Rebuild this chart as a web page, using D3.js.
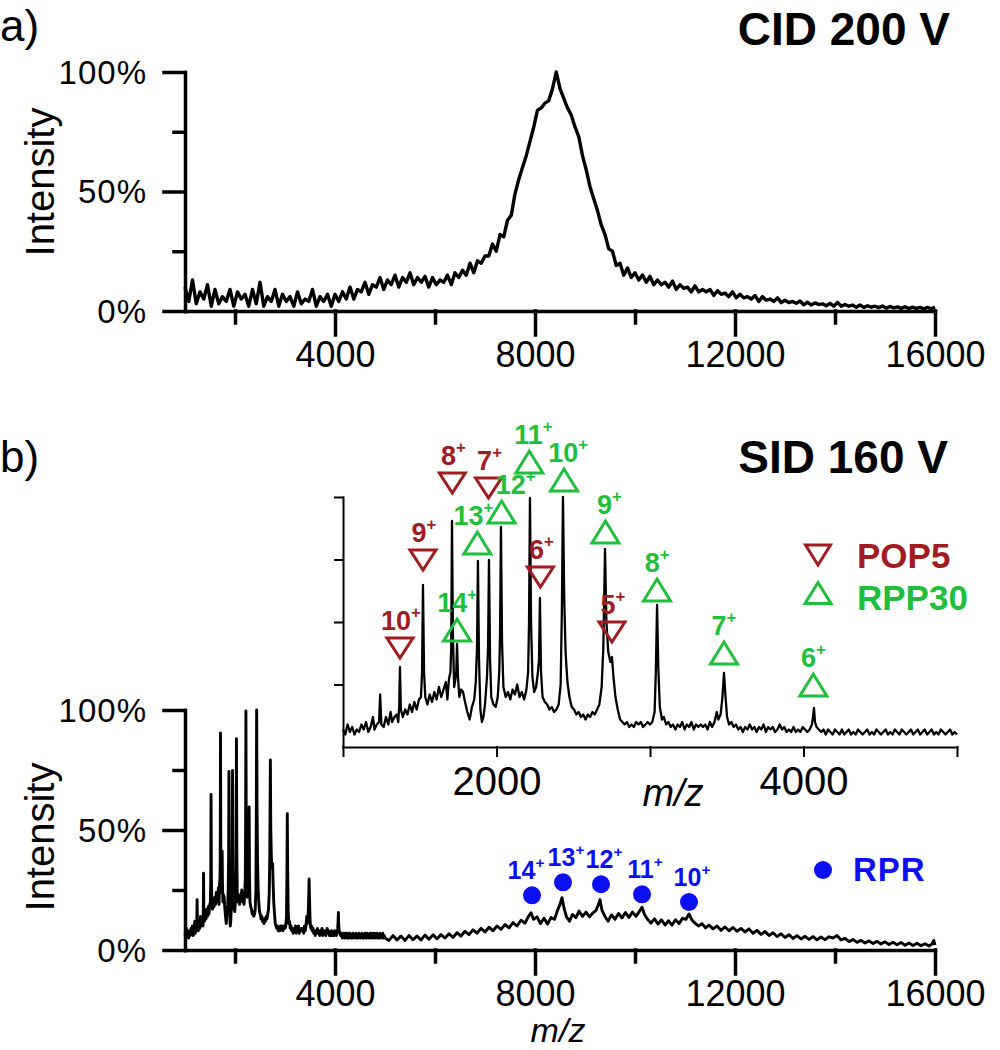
<!DOCTYPE html>
<html><head><meta charset="utf-8">
<script src="https://cdn.jsdelivr.net/npm/d3@7"></script>
<style>body{margin:0;background:#fff}svg{display:block}</style>
</head><body>
<svg id="c" width="1000" height="1050"></svg>
<script>
// ---------------- DATA ----------------
// a) CID 200 V spectrum, sampled every 75 m/z starting at 1000
const cidStart = 1000, cidStep = 75;
const cidIntensity = [
.10,.04,.13,.03,.08,.05,.11,.02,.09,.03,.06,.04,.09,.02,.08,.05,.07,.02,.09,.03,
.12,.02,.06,.04,.09,.02,.07,.04,.06,.02,.08,.03,.05,.04,.09,.02,.06,.04,.07,.02,
.07,.04,.08,.05,.10,.05,.09,.08,.12,.07,.11,.10,.14,.09,.13,.11,.15,.10,.14,.12,
.16,.11,.14,.12,.145,.10,.14,.11,.13,.12,.15,.11,.16,.14,.17,.15,.20,.16,.21,.20,
.23,.23,.28,.25,.32,.31,.38,.40,.49,.55,.60,.65,.71,.77,.84,.85,.87,.88,.93,1.0,
.93,.89,.85,.82,.77,.73,.65,.59,.52,.47,.42,.36,.32,.26,.25,.19,.20,.15,.18,.14,
.16,.13,.15,.12,.145,.11,.13,.11,.12,.10,.125,.09,.11,.095,.10,.08,.105,.08,.09,.08,
.09,.065,.085,.07,.075,.06,.08,.055,.07,.055,.06,.05,.065,.04,.06,.045,.05,.04,.055,.035,
.045,.035,.04,.032,.042,.026,.037,.025,.034,.027,.03,.022,.032,.02,.036,.02,.027,.02,.025,.016,
.025,.015,.022,.016,.02,.014,.021,.012,.019,.013,.017,.011,.018,.01,.016,.011,.015,.009,.015,.009,.016
];

// b) SID 160 V spectrum, low m/z part [m/z, relative intensity] (also shown in the inset)
const sidLow = [
[1000,.07],[1015,.05],[1030,.09],[1045,.06],[1060,.08],[1075,.05],[1090,.07],[1105,.06],[1120,.09],[1135,.07],
[1150,.10],[1165,.06],[1180,.08],[1195,.12],[1205,.07],[1220,.09],[1235,.10],[1242,.21],[1250,.09],[1265,.08],
[1280,.12],[1295,.09],[1310,.14],[1320,.10],[1335,.12],[1350,.13],[1360,.10],[1366,.16],[1371,.32],[1377,.15],
[1390,.12],[1405,.15],[1420,.13],[1435,.17],[1450,.14],[1465,.18],[1480,.15],[1495,.19],[1508,.20],[1515,.30],
[1521,.648],[1528,.30],[1536,.20],[1550,.17],[1565,.21],[1580,.18],[1595,.22],[1610,.19],[1625,.24],[1640,.20],
[1655,.23],[1670,.26],[1680,.19],[1690,.27],[1700,.30],[1705,.40],[1710,.904],[1716,.45],[1724,.24],[1732,.27],
[1738,.30],[1743,.412],[1749,.28],[1758,.20],[1770,.23],[1782,.22],[1795,.18],[1810,.14],[1825,.11],[1840,.16],
[1855,.19],[1865,.26],[1873,.40],[1879,.744],[1886,.35],[1895,.15],[1905,.10],[1915,.12],[1925,.17],[1938,.28],
[1945,.40],[1951,.748],[1958,.35],[1966,.20],[1980,.17],[1995,.16],[2008,.20],[2018,.30],[2023,.45],[2029,.88],
[2036,.42],[2045,.24],[2060,.20],[2075,.22],[2090,.19],[2105,.23],[2120,.21],[2135,.25],[2150,.20],[2165,.22],
[2180,.19],[2195,.23],[2206,.30],[2212,.50],[2218,.996],[2225,.50],[2234,.28],[2245,.22],[2258,.24],[2270,.30],
[2277,.35],[2283,.596],[2290,.30],[2300,.20],[2315,.18],[2330,.17],[2345,.15],[2360,.16],[2375,.14],[2390,.15],
[2405,.17],[2418,.25],[2426,.55],[2433,1.0],[2441,.60],[2450,.38],[2462,.26],[2475,.20],[2490,.16],[2505,.15],
[2520,.13],[2535,.14],[2550,.12],[2565,.13],[2580,.11],[2595,.13],[2610,.12],[2625,.14],[2640,.13],[2655,.15],
[2670,.17],[2685,.24],[2696,.40],[2707,.792],[2716,.50],[2728,.38],[2742,.34],[2752,.36],[2762,.28],[2775,.20],
[2790,.15],[2805,.11],[2820,.10],[2835,.09],[2850,.10],[2865,.08],[2880,.09],[2895,.08],[2910,.10],[2925,.09],
[2940,.10],[2955,.08],[2970,.09],[2985,.10],[3000,.09],[3015,.10],[3030,.14],[3038,.30],[3046,.568],[3054,.32],
[3064,.16],[3078,.11],[3090,.12],[3105,.09],[3120,.10],[3135,.08],[3150,.09],[3165,.07],[3180,.09],[3195,.08],
[3210,.10],[3225,.07],[3240,.09],[3255,.08],[3270,.10],[3285,.07],[3300,.09],[3315,.08],[3330,.09],[3345,.08],
[3360,.09],[3375,.07],[3390,.10],[3405,.08],[3420,.10],[3435,.14],[3445,.11],[3460,.13],[3472,.20],[3482,.296],
[3492,.20],[3502,.12],[3515,.09],[3530,.10],[3545,.08],[3560,.09],[3575,.07],[3590,.08],[3605,.06],[3620,.08],
[3635,.07],[3650,.09],[3665,.07],[3680,.08],[3695,.06],[3710,.08],[3725,.07],[3740,.09],[3755,.06],[3770,.08],
[3785,.07],[3800,.08],[3815,.06],[3830,.07],[3845,.09],[3860,.07],[3875,.08],[3890,.06],[3905,.07],[3920,.06],
[3935,.08],[3950,.06],[3965,.07],[3980,.06],[3995,.08],[4010,.07],[4025,.06],[4040,.07],[4055,.09],[4062,.12],
[4068,.156],[4075,.10],[4085,.08],[4100,.07],[4115,.06],[4130,.07],[4145,.05],[4160,.07],[4175,.06],[4190,.05],
[4205,.07],[4220,.06],[4235,.05],[4250,.07],[4265,.05],[4280,.06],[4295,.07],[4310,.05],[4325,.06],[4340,.05],
[4355,.07],[4370,.06],[4385,.05],[4400,.06],[4415,.07],[4430,.05],[4445,.06],[4460,.05],[4475,.07],[4490,.06],
[4505,.05],[4520,.06],[4535,.07],[4550,.05],[4565,.06],[4580,.05],[4595,.07],[4610,.06],[4625,.05],[4640,.07],
[4655,.06],[4670,.05],[4685,.06],[4700,.07],[4715,.05],[4730,.06],[4745,.07],[4760,.05],[4775,.06],[4790,.07],
[4805,.05],[4820,.06],[4835,.07],[4850,.05],[4865,.06],[4880,.05],[4895,.07],[4910,.06],[4925,.05],[4940,.06],
[4955,.07],[4970,.05],[4985,.06],[5000,.05]
];
// b) SID 160 V spectrum, high m/z part
const sidHigh = [
[5000,.055],[5080,.04],[5160,.06],[5240,.042],[5320,.058],[5400,.04],[5480,.06],[5560,.043],[5640,.058],[5720,.042],
[5800,.062],[5880,.045],[5960,.063],[6040,.047],[6120,.064],[6200,.05],[6280,.068],[6360,.052],[6440,.072],[6520,.058],
[6600,.078],[6680,.064],[6760,.084],[6840,.07],[6920,.09],[7000,.075],[7080,.095],[7160,.08],[7240,.10],[7320,.086],
[7400,.106],[7480,.092],[7560,.114],[7640,.10],[7720,.124],[7800,.112],[7870,.14],[7920,.155],[7970,.128],[8040,.138],
[8110,.11],[8180,.132],[8250,.108],[8320,.135],[8390,.128],[8450,.165],[8500,.19],[8540,.218],[8580,.175],[8630,.138],
[8690,.12],[8750,.148],[8820,.135],[8880,.162],[8950,.14],[9020,.158],[9090,.138],[9160,.155],[9220,.165],[9270,.19],
[9300,.21],[9340,.165],[9400,.14],[9460,.12],[9530,.146],[9600,.128],[9670,.152],[9740,.134],[9810,.156],[9880,.136],
[9950,.158],[10020,.14],[10090,.162],[10140,.178],[10190,.148],[10250,.128],[10320,.112],[10390,.13],[10460,.108],[10530,.126],
[10600,.104],[10670,.122],[10740,.104],[10810,.126],[10880,.11],[10950,.132],[11020,.128],[11080,.15],[11140,.125],[11200,.112],
[11270,.10],[11340,.11],[11410,.092],[11480,.104],[11560,.088],[11640,.10],[11720,.082],[11800,.096],[11880,.08],[11960,.094],
[12040,.078],[12120,.09],[12200,.075],[12280,.088],[12360,.07],[12440,.082],[12520,.065],[12600,.077],[12680,.06],[12760,.072],
[12840,.056],[12920,.068],[13000,.052],[13080,.064],[13160,.048],[13240,.06],[13320,.046],[13400,.057],[13480,.044],[13560,.056],
[13640,.042],[13720,.054],[13800,.043],[13880,.055],[13960,.05],[14040,.06],[14120,.042],[14200,.048],[14280,.035],[14360,.044],
[14440,.032],[14520,.04],[14600,.029],[14680,.038],[14760,.027],[14840,.036],[14920,.025],[15000,.034],[15080,.023],[15160,.032],
[15240,.022],[15320,.031],[15400,.02],[15480,.029],[15560,.019],[15640,.028],[15720,.018],[15800,.026],[15880,.017],[15940,.025],
[15975,.04],[16000,.02]
];

// Annotations
const pop5Charge = [10, 9, 8, 7, 6, 5];
const pop5Mz     = [1371, 1521, 1712, 1948, 2286, 2752];
const pop5MarkY  = [0.396, 0.748, 1.056, 1.036, 0.68, 0.46];

const rpp30Charge = [14, 13, 12, 11, 10, 9, 8, 7, 6];
const rpp30Mz     = [1743, 1875, 2033, 2214, 2440, 2710, 3046, 3482, 4064];
const rpp30MarkY  = [0.468, 0.816, 0.94, 1.14, 1.068, 0.86, 0.628, 0.376, 0.248];

const rprCharge = [14, 13, 12, 11, 10];
const rprMz     = [7940, 8560, 9320, 10140, 11080];
const rprMarkY  = [0.228, 0.282, 0.274, 0.232, 0.20];

const yMajorTicks = [0, 0.5, 1];
const yMinorTicks = [0.25, 0.75];
const xMajorTicks = [4000, 8000, 12000, 16000];
const xMinorTicks = [2000, 6000, 10000, 14000];
const insetYTicks = [0.25, 0.5, 0.75, 1];
const insetXTicks = [1000, 2000, 3000, 4000, 5000];
const insetXLabels = [2000, 4000];

// ---------------- DRAWING ----------------
const FONT = "'Liberation Sans', Arial, Helvetica, sans-serif";
const RED = "#a01c1f", GREEN = "#1fbf3c", BLUE = "#0b10f2";
const svg = d3.select("#c");
svg.append("rect").attr("width",1000).attr("height",1050).attr("fill","#fff");

const xM = d3.scaleLinear().domain([1000,16000]).range([185,935]);
const yA = d3.scaleLinear().domain([0,1]).range([311,72]);
const yB = d3.scaleLinear().domain([0,1]).range([950,710]);
const xI = d3.scaleLinear().domain([1000,5000]).range([343,957]);
const yI = d3.scaleLinear().domain([0,1]).range([747,497]);

function styleAxis(g, sw, fs) {
  g.attr("font-family", FONT).attr("fill", null);
  g.selectAll("path,line").attr("stroke","#000").attr("stroke-width", sw).attr("stroke-linecap","square");
  g.selectAll("text").attr("font-size", fs).attr("fill","#000");
}

function mainAxes(y) {
  const x0 = xM.range()[0], y0 = y.range()[0];
  const gy = svg.append("g").attr("transform",`translate(${x0},0)`)
    .call(d3.axisLeft(y).tickValues(yMajorTicks).tickSize(21).tickSizeOuter(0).tickPadding(17)
      .tickFormat(d3.format(".0%")));
  styleAxis(gy, 3.5, 33);
  gy.selectAll("text").attr("letter-spacing", 1).attr("dy","0.34em");
  const gym = svg.append("g").attr("transform",`translate(${x0},0)`)
    .call(d3.axisLeft(y).tickValues(yMinorTicks).tickSize(11).tickFormat(""));
  gym.select(".domain").remove();
  styleAxis(gym, 3.5, 10);

  const gx = svg.append("g").attr("transform",`translate(0,${y0})`)
    .call(d3.axisBottom(xM).tickValues(xMajorTicks).tickSize(24).tickSizeOuter(0).tickFormat(d3.format("d")));
  styleAxis(gx, 3.5, 36);
  gx.selectAll("text").attr("y", 56).attr("dy", null);
  const gxm = svg.append("g").attr("transform",`translate(0,${y0})`)
    .call(d3.axisBottom(xM).tickValues(xMinorTicks).tickSize(12).tickFormat(""));
  gxm.select(".domain").remove();
  styleAxis(gxm, 3.5, 10);
}

// ----- panel a -----
mainAxes(yA);
const cidData = cidIntensity.map((v,i) => [cidStart + i*cidStep, v]);
svg.append("path").datum(cidData)
  .attr("d", d3.line().x(d=>xM(d[0])).y(d=>yA(d[1])))
  .attr("fill","none").attr("stroke","#000").attr("stroke-width",3.4).attr("stroke-linejoin","round");

svg.append("text").attr("x",0).attr("y",41).attr("font-family",FONT).attr("font-size",44).text("a)");
svg.append("text").attr("x",950).attr("y",45).attr("text-anchor","end").attr("font-family",FONT)
  .attr("font-weight","bold").attr("font-size",46).text("CID 200 V");
svg.append("text").attr("transform","translate(54,182) rotate(-90)").attr("text-anchor","middle")
  .attr("font-family",FONT).attr("font-size",40).text("Intensity");

// ----- panel b main -----
mainAxes(yB);
const sidAll = sidLow.concat(sidHigh.slice(1));
svg.append("path").datum(sidAll)
  .attr("d", d3.line().x(d=>xM(d[0])).y(d=>yB(d[1])))
  .attr("fill","none").attr("stroke","#000").attr("stroke-width",2.9).attr("stroke-linejoin","round");

svg.append("text").attr("x",0).attr("y",472).attr("font-family",FONT).attr("font-size",44).text("b)");
svg.append("text").attr("x",948).attr("y",473).attr("text-anchor","end").attr("font-family",FONT)
  .attr("font-weight","bold").attr("font-size",46).text("SID 160 V");
svg.append("text").attr("transform","translate(54,837) rotate(-90)").attr("text-anchor","middle")
  .attr("font-family",FONT).attr("font-size",40).text("Intensity");
svg.append("text").attr("x",558).attr("y",1042).attr("text-anchor","middle").attr("font-family",FONT)
  .attr("font-style","italic").attr("font-size",34).text("m/z");

// charge-state label helper
function chargeLabel(g, x, y, z, color, fs) {
  const t = g.append("text").attr("x",x).attr("y",y).attr("text-anchor","middle")
    .attr("font-family",FONT).attr("font-weight","bold").attr("font-size",fs).attr("fill",color);
  t.append("tspan").text(z);
  t.append("tspan").attr("font-size",fs*0.62).attr("dy",-fs*0.45).text("+");
}
function triPath(cx, cy, w, h, down) {
  const pts = down
    ? [[cx-w/2, cy-h/2],[cx+w/2, cy-h/2],[cx, cy+h/2]]
    : [[cx-w/2, cy+h/2],[cx+w/2, cy+h/2],[cx, cy-h/2]];
  return d3.line()(pts) + "Z";
}

// RPR markers
const gR = svg.append("g");
rprMz.forEach((m,i) => {
  gR.append("circle").attr("cx",xM(m)).attr("cy",yB(rprMarkY[i])).attr("r",9).attr("fill",BLUE);
  chargeLabel(gR, xM(m)+(i===0?-6:3), yB(rprMarkY[i])-16, rprCharge[i], BLUE, 25);
});
gR.append("circle").attr("cx",823).attr("cy",870).attr("r",9).attr("fill",BLUE);
gR.append("text").attr("x",853).attr("y",881).attr("font-family",FONT).attr("font-weight","bold")
  .attr("font-size",33).attr("letter-spacing",1).attr("fill",BLUE).text("RPR");

// ----- inset -----
const gi = svg.append("g");
const giy = gi.append("g").attr("transform",`translate(${xI.range()[0]},0)`)
  .call(d3.axisLeft(yI).tickValues(insetYTicks).tickSize(8).tickSizeOuter(0).tickFormat(""));
styleAxis(giy, 2, 10);
const gix = gi.append("g").attr("transform",`translate(0,${yI.range()[0]})`)
  .call(d3.axisBottom(xI).tickValues(insetXTicks).tickSize(9).tickSizeOuter(0)
    .tickFormat(d => insetXLabels.includes(d) ? d3.format("d")(d) : ""));
styleAxis(gix, 2, 40);
gix.selectAll("text").attr("y", 48).attr("dy", null);
gi.append("text").attr("x",673).attr("y",806).attr("text-anchor","middle").attr("font-family",FONT)
  .attr("font-style","italic").attr("font-size",38).text("m/z");

gi.append("path").datum(sidLow)
  .attr("d", d3.line().x(d=>xI(d[0])).y(d=>yI(d[1])))
  .attr("fill","none").attr("stroke","#000").attr("stroke-width",2.3).attr("stroke-linejoin","round");

const labelNudge = {rpp30: {12: 14, 13: -4, 11: 4, 10: 4, 9: 4}};
pop5Mz.forEach((m,i) => {
  const cx = xI(m), cy = yI(pop5MarkY[i]);
  gi.append("path").attr("d", triPath(cx, cy, 26, 20, true)).attr("fill","none")
    .attr("stroke",RED).attr("stroke-width",3);
  chargeLabel(gi, cx+1, cy-18, pop5Charge[i], RED, 27);
});
rpp30Mz.forEach((m,i) => {
  const cx = xI(m), cy = yI(rpp30MarkY[i]);
  gi.append("path").attr("d", triPath(cx, cy, 27, 22, false)).attr("fill","none")
    .attr("stroke",GREEN).attr("stroke-width",3);
  chargeLabel(gi, cx + (labelNudge.rpp30[rpp30Charge[i]]||0), cy-18, rpp30Charge[i], GREEN, 27);
});

// inset legend
gi.append("path").attr("d", triPath(818, 555, 25, 20, true)).attr("fill","none").attr("stroke",RED).attr("stroke-width",3);
gi.append("text").attr("x",857).attr("y",568).attr("font-family",FONT).attr("font-weight","bold")
  .attr("font-size",35).attr("fill",RED).text("POP5");
gi.append("path").attr("d", triPath(818, 593, 26, 21, false)).attr("fill","none").attr("stroke",GREEN).attr("stroke-width",3);
gi.append("text").attr("x",857).attr("y",610).attr("font-family",FONT).attr("font-weight","bold")
  .attr("font-size",35).attr("fill",GREEN).text("RPP30");
</script>
</body></html>
